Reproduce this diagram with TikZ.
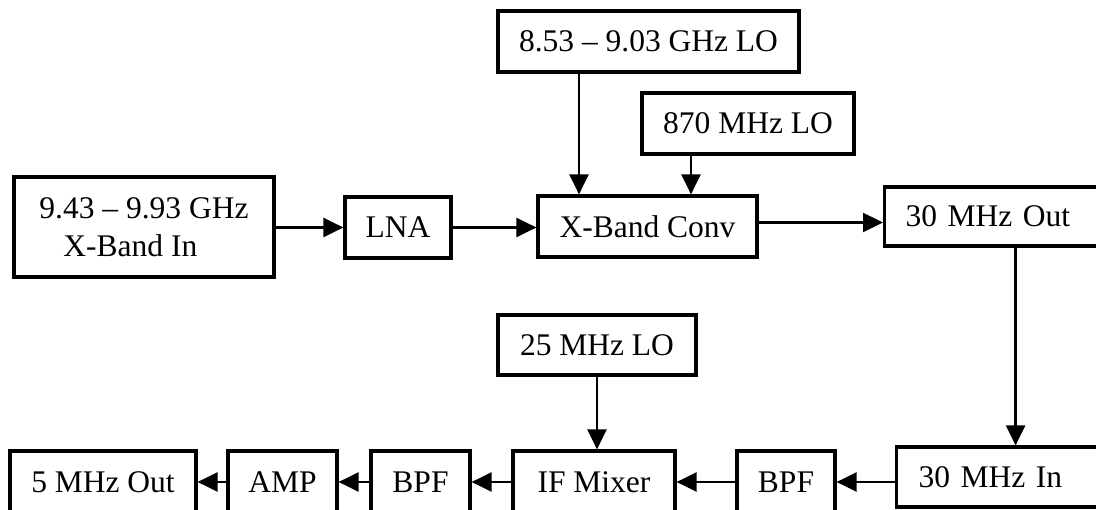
\documentclass[tikz,border=0pt]{standalone}
\usepackage{fontspec}
\setmainfont{Liberation Serif}
\usetikzlibrary{arrows.meta,positioning}

\begin{document}
\begin{tikzpicture}[x=1pt,y=-1pt,>={Triangle[length=20pt,width=19pt]},
    blk/.style={draw,rectangle,line width=3.2pt,inner sep=0pt,font=\fontsize{31.5}{38}\selectfont},
    sig/.style={->,line width=2.3pt}]
  \useasboundingbox (0,0) rectangle (1096,510);
  \clip (0,0) rectangle (1096,510);

  \node[blk,minimum width=301,minimum height=61] (lohi)  at (648.5,41.5) {8.53 -- 9.03 GHz LO};
  \node[blk,minimum width=212,minimum height=61] (lomid) at (748,123.5)  {870 MHz LO};
  \node[blk,minimum width=260,minimum height=100,align=left] (xin) at (144,227)
        {9.43 -- 9.93 GHz\\\hspace*{24pt}X-Band In};
  \node[blk,minimum width=106,minimum height=61] (lna)   at (398,227.5)  {LNA};
  \node[blk,minimum width=219,minimum height=61] (conv)  at (647.5,226.5) {X-Band Conv};
  \node[blk,anchor=west,minimum height=59,inner xsep=21pt,text width=200pt,align=left] (out30) at (883,216.5) {30 MHz Out};
  \node[blk,minimum width=198,minimum height=60] (lo25)  at (597,345)    {25 MHz LO};
  \node[blk,anchor=west,minimum height=60,inner xsep=22pt,text width=200pt,align=left] (in30) at (895,477) {30 MHz In};
  \node[blk,minimum width=98,minimum height=62]  (bpfa)  at (786,482)    {BPF};
  \node[blk,minimum width=162,minimum height=62] (mix)   at (594,482)    {IF Mixer};
  \node[blk,minimum width=99,minimum height=62]  (bpfb)  at (420.5,482)  {BPF};
  \node[blk,minimum width=109,minimum height=62] (amp)   at (282.5,482)  {AMP};
  \node[blk,minimum width=186,minimum height=62] (out5)  at (103,482)    {5 MHz Out};

  \draw[sig] (xin.east |- lna) -- (lna.west);
  \draw[sig] (lna.east) -- (lna.east -| conv.west);
  \draw[sig] ([yshift=4pt]conv.east) -- ([yshift=4pt]conv.east -| out30.west);
  \draw[sig] ([xshift=-69.5pt]lohi.south) -- ([xshift=-69.5pt]lohi.south |- conv.north);
  \draw[sig] ([xshift=-57pt]lomid.south) -- ([xshift=-57pt]lomid.south |- conv.north);
  \draw[sig] ([xshift=10pt]out30.south) -- ([xshift=10pt]out30.south |- in30.north);
  \draw[sig] (lo25.south) -- (lo25.south |- mix.north);
  \draw[sig] (bpfa.east -| in30.west) -- (bpfa.east);
  \draw[sig] (bpfa.west) -- (mix.east);
  \draw[sig] (mix.west) -- (bpfb.east);
  \draw[sig] (bpfb.west) -- (amp.east);
  \draw[sig] (amp.west) -- (out5.east);
\end{tikzpicture}
\end{document}
